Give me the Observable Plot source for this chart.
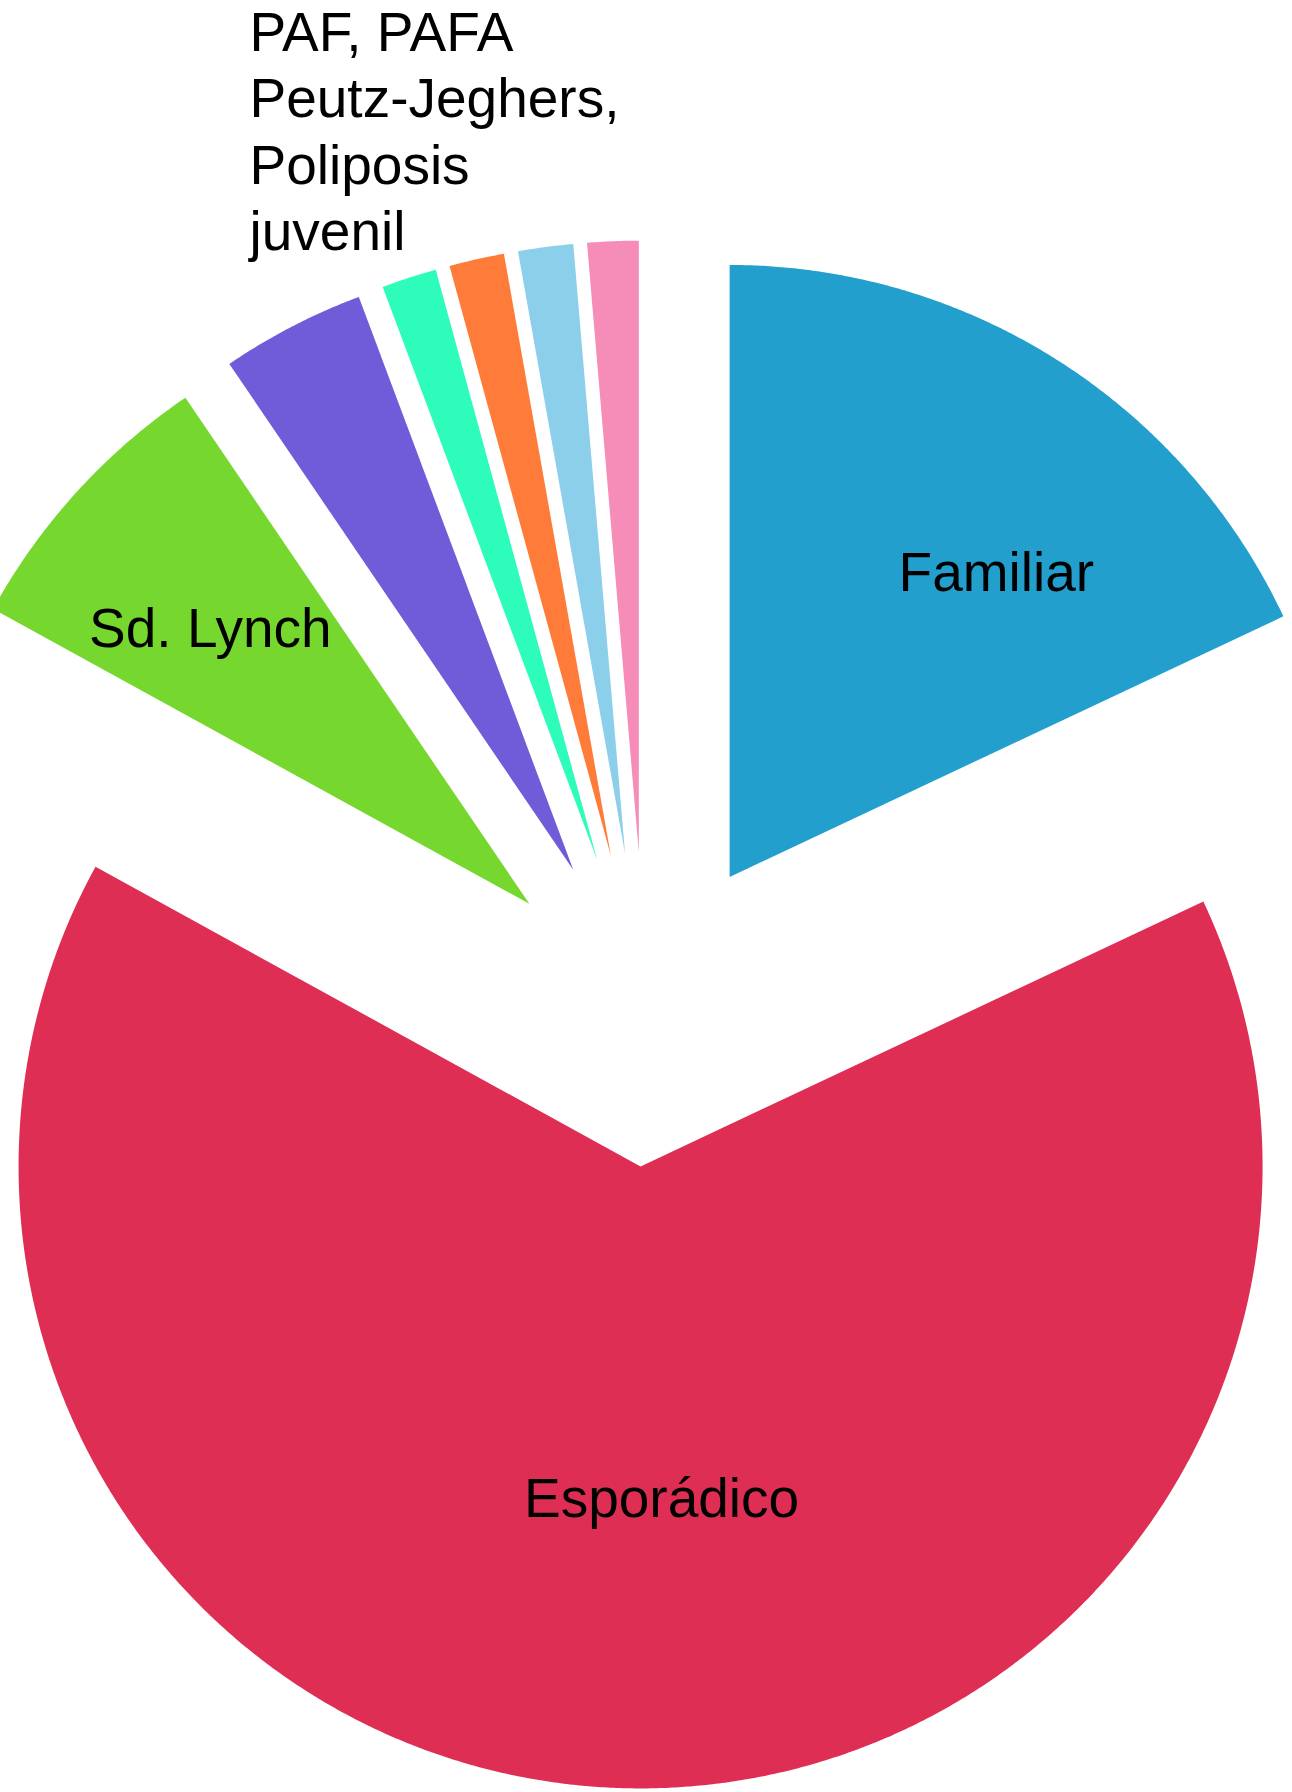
<!DOCTYPE html>
<html>
<head>
<meta charset="utf-8">
<script src="https://cdn.jsdelivr.net/npm/d3@7"></script>
<script src="https://cdn.jsdelivr.net/npm/@observablehq/plot@0.6"></script>
<style>
  html, body { margin: 0; padding: 0; background: #ffffff; }
  #chart svg { display: block; }
</style>
</head>
<body>
<div id="chart"></div>
<script>
// ---- Data ----
const categories = ["Familiar", "Esporádico", "Sd. Lynch", "Otros", "PAF", "PAFA", "Peutz-Jeghers", "Poliposis juvenil"];
const values = [18, 65, 7.5, 3.8, 1.45, 1.45, 1.45, 1.35];
const colors = ["#229fcd", "#df2e54", "#76d72f", "#705bd9", "#2efcba", "#ff7b39", "#8bcfeb", "#f68cb8"];
const sliceLabels = ["Familiar", "Esporádico", "Sd. Lynch", "", "", "", "", ""];
const groupLabel = "PAF, PAFA\nPeutz-Jeghers,\nPoliposis\njuvenil";

// ---- Layout / style settings ----
const W = 1292, H = 1792;
const unitPx = 617;               // pixels per data unit (pie radius scale)
const centerPx = [645, 1009];     // pie centre in pixels
const explode = 157 / 617;        // explosion distance, in data units
const sliceRadius = {"Esporádico": 622 / 617};   // outer radius per slice (default below)
const defaultRadius = 612 / 617;
const fontSize = 55;
const fontFamily = "Liberation Sans, Arial, Helvetica, sans-serif";
// label placement: distance from the slice apex (data units), angular shift (deg)
const labelPlacement = {
  "Familiar": {r: 0.655, shift: 8.9},
  "Esporádico": {r: 0.541, shift: -5.4},
  "Sd. Lynch": {r: 0.682, shift: -1.6}
};

// ---- Geometry from data ----
const arcs = d3.pie().sort(null).value(d => d)(values);
const pts = [];
const labelData = [];
arcs.forEach((a, i) => {
  const cat = categories[i];
  const R = sliceRadius[cat] ?? defaultRadius;
  const m = (a.startAngle + a.endAngle) / 2;
  const ex = explode * Math.sin(m), ey = explode * Math.cos(m);
  pts.push({cat, x: ex, y: ey});
  const n = Math.max(4, Math.ceil((a.endAngle - a.startAngle) / 0.005));
  for (let k = 0; k <= n; k++) {
    const t = a.startAngle + (a.endAngle - a.startAngle) * k / n;
    pts.push({cat, x: ex + R * Math.sin(t), y: ey + R * Math.cos(t)});
  }
  const lp = labelPlacement[cat];
  if (sliceLabels[i] && lp) {
    const th = m + lp.shift * Math.PI / 180;
    labelData.push({text: sliceLabels[i], x: ex + lp.r * Math.sin(th), y: ey + lp.r * Math.cos(th)});
  }
});

const xDomain = [-centerPx[0] / unitPx, (W - centerPx[0]) / unitPx];
const yDomain = [-(H - centerPx[1]) / unitPx, centerPx[1] / unitPx];

const chart = Plot.plot({
  width: W,
  height: H,
  margin: 0,
  style: {background: "#ffffff", fontFamily},
  x: {domain: xDomain, axis: null},
  y: {domain: yDomain, axis: null},
  color: {domain: categories, range: colors},
  marks: [
    Plot.line(pts, {x: "x", y: "y", z: "cat", fill: "cat", stroke: "none", curve: "linear-closed"}),
    Plot.text(labelData, {
      x: "x", y: "y", text: "text",
      fontSize, fontFamily, fill: "#000000",
      textAnchor: "middle", lineAnchor: "middle"
    }),
    Plot.text([groupLabel], {
      frameAnchor: "top-left", text: d => d,
      dx: 249, dy: 3,
      fontSize, fontFamily, fill: "#000000",
      textAnchor: "start", lineAnchor: "top", lineHeight: 1.21
    })
  ]
});
document.getElementById("chart").appendChild(chart);
</script>
</body>
</html>
